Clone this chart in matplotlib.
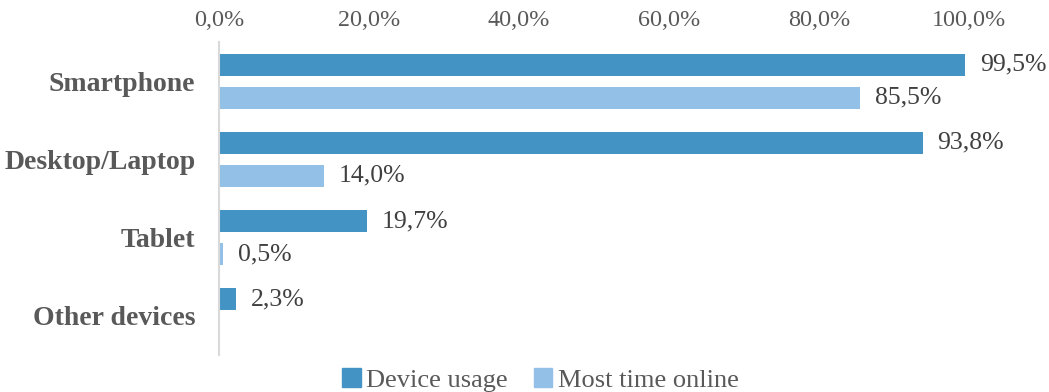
import numpy as np
import matplotlib.pyplot as plt
from matplotlib.patches import Patch

categories = ["Smartphone", "Desktop/Laptop", "Tablet", "Other devices"]
device_usage = [99.5, 93.8, 19.7, 2.3]
most_time_online = [85.5, 14.0, 0.5, None]
ticks = [0, 20, 40, 60, 80, 100]

dark = "#4394C4"
light = "#92C0E6"
txt = "#404040"

plt.rcParams["font.family"] = ["Liberation Serif", "DejaVu Serif"]

fig = plt.figure(figsize=(10.49, 3.92), dpi=100)
ax = fig.add_axes([219 / 1049, 1 - 355 / 392, 750 / 1049, 313 / 392])

y = np.arange(len(categories))
h = 0.28
off = 0.21

for i, v in enumerate(device_usage):
    ax.barh(y[i] - off, v, height=h, color=dark)
    ax.text(v + 2, y[i] - off, f"{v:.1f}%".replace(".", ","), va="center",
            ha="left", fontsize=18.5, color=txt)
for i, v in enumerate(most_time_online):
    if v is None:
        continue
    ax.barh(y[i] + off, v, height=h, color=light)
    ax.text(v + 2, y[i] + off, f"{v:.1f}%".replace(".", ","), va="center",
            ha="left", fontsize=18.5, color=txt)

ax.set_xlim(0, 100)
ax.set_ylim(len(categories) - 0.5, -0.5)
ax.set_yticks(y)
ax.set_yticklabels(categories, fontsize=20, fontweight="bold", color="#595959")
ax.set_xticks(ticks)
ax.set_xticklabels([f"{t:.1f}%".replace(".", ",") for t in ticks],
                   fontsize=17.4, color="#595959")
ax.xaxis.tick_top()
ax.tick_params(axis="both", length=0)
ax.tick_params(axis="x", pad=8)
ax.tick_params(axis="y", pad=17)
for s in ["top", "right", "bottom"]:
    ax.spines[s].set_visible(False)
ax.spines["left"].set_color("#D9D9D9")
ax.spines["left"].set_linewidth(1.5)

handles = [Patch(color=dark, label="Device usage"),
           Patch(color=light, label="Most time online")]
fig.legend(handles=handles, loc="lower center", bbox_to_anchor=(0.515, -0.06),
           ncol=2, frameon=False, fontsize=19, handlelength=0.7,
           handleheight=0.7, handletextpad=0.2, columnspacing=1.0,
           labelcolor="#595959")

fig.savefig("out.png", dpi=100)
